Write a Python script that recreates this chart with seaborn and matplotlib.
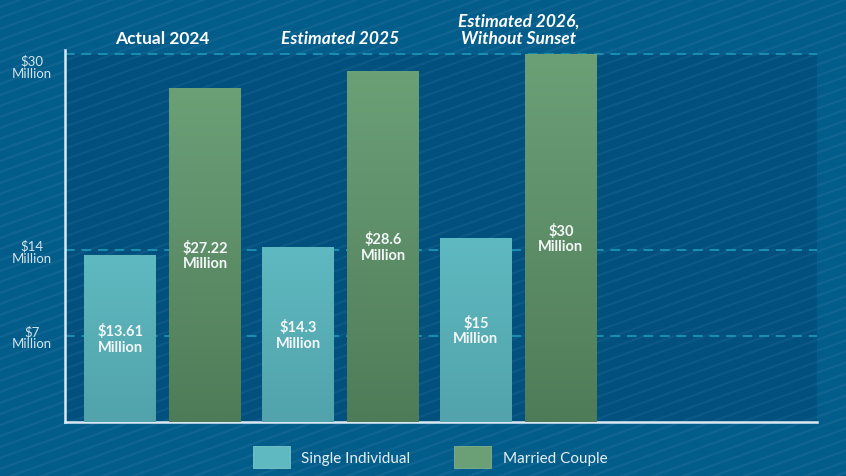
import seaborn as sns
import matplotlib.pyplot as plt
import matplotlib.patches as mpatches
import matplotlib.colors as mcolors
import numpy as np
import pandas as pd

# Chart data
periods = ["Actual 2024", "Estimated 2025", "Estimated 2026,\nWithout Sunset"]
single = [13.61, 14.3, 15.0]
married = [27.22, 28.6, 30.0]
value_labels_single = ["$13.61\nMillion", "$14.3\nMillion", "$15\nMillion"]
value_labels_married = ["$27.22\nMillion", "$28.6\nMillion", "$30\nMillion"]
series_names = ["Single Individual", "Married Couple"]
y_ticks = [7, 14, 30]
y_tick_labels = ["$7\nMillion", "$14\nMillion", "$30\nMillion"]

# Colours
bg_outer = "#035d8b"
bg_inner = "#01507e"
teal_top, teal_bot = "#5fb9c0", "#52a3ab"
green_top, green_bot = "#6ba077", "#4f7c58"
grid_col = "#1a8fb2"
axis_col = "#dbeaf2"

sns.set_style("white")
plt.rcParams["font.family"] = ["Lato", "DejaVu Sans"]

data = pd.DataFrame({"Period": periods, series_names[0]: single, series_names[1]: married})
data_melted = data.melt(id_vars="Period", var_name="Type", value_name="Value")

W, H = 846, 477
fig = plt.figure(figsize=(W / 100, H / 100), dpi=100, facecolor=bg_outer)

ax = fig.add_axes([65 / W, 1 - 423 / H, (817 - 65) / W, (423 - 51) / H], zorder=1)
ax.set_facecolor("none")

# background: darker plot area + diagonal stripes
ax_bg = fig.add_axes([0, 0, 1, 1], zorder=-10)
ax_bg.set_xlim(0, W)
ax_bg.set_ylim(0, H)
ax_bg.axis("off")
pos = ax.get_position()
ax_bg.add_patch(mpatches.Rectangle((pos.x0 * W, pos.y0 * H), pos.width * W, (pos.height * H) - 4,
                                   facecolor=bg_inner, edgecolor="none"))
xs = np.array([0, W])
for c in np.arange(-400, H + 20, 11):
    ax_bg.plot(xs, c + 0.36 * xs, color="white", alpha=0.05, lw=1.6)

sns.barplot(
    data=data_melted, x="Period", y="Value", hue="Type",
    palette=[teal_top, green_top], saturation=1, width=0.956, gap=0.153,
    dodge=True, ax=ax, zorder=3, edgecolor="none", linewidth=0,
)
if ax.get_legend() is not None:
    ax.get_legend().remove()

# vertical gradient on each bar (patches come hue level by hue level)
n = len(periods)
bars = [p for p in ax.patches if isinstance(p, mpatches.Rectangle)][: 2 * n]
for k, bar in enumerate(bars):
    top, bot = (teal_top, teal_bot) if k < n else (green_top, green_bot)
    c1 = np.array(mcolors.to_rgb(top))
    c2 = np.array(mcolors.to_rgb(bot))
    t = np.linspace(0, 1, 64)[:, None]
    img = (c1 * (1 - t) + c2 * t)[:, None, :]
    x0, w, h = bar.get_x(), bar.get_width(), bar.get_height()
    im = ax.imshow(img, extent=(x0, x0 + w, 0, h), aspect="auto", zorder=3.5, interpolation="bilinear")
    im.set_clip_path(bar)
ax.set_xlim(-0.55, 3.68)
ax.set_ylim(0, 30.33)

# value labels inside bars
for i in range(n):
    ax.text(i - 0.239, single[i] / 2, value_labels_single[i], ha="center", va="center",
            color="#f4f7f8", fontsize=10.5, fontweight="bold", zorder=5, linespacing=1.15)
    ax.text(i + 0.239, married[i] / 2, value_labels_married[i], ha="center", va="center",
            color="#f4f7f8", fontsize=10.5, fontweight="bold", zorder=5, linespacing=1.15)

# grid and spines
ax.set_yticks(y_ticks)
ax.set_yticklabels(y_tick_labels, ha="center", multialignment="center", linespacing=1.0)
ax.grid(axis="y", color=grid_col, linestyle=(0, (5, 3.5)), linewidth=1.4)
ax.grid(axis="x", visible=False)
ax.set_axisbelow(True)
for s in ["top", "right"]:
    ax.spines[s].set_visible(False)
for s in ["left", "bottom"]:
    ax.spines[s].set_color(axis_col)
    ax.spines[s].set_linewidth(1.8)

ax.tick_params(axis="y", length=0, pad=24, labelsize=9.5, labelcolor="#d3e4ee")
for lab, v in zip(ax.get_yticklabels(), y_ticks):
    if v == 30:
        lab.set_verticalalignment("top")

# period titles on top
ax.xaxis.tick_top()
ax.tick_params(axis="x", length=0, pad=3, labelsize=12.5, labelcolor="white")
ax.set_xticks(range(n))
ax.set_xticklabels(periods, fontweight="bold", linespacing=1.1)
for i, lab in enumerate(ax.get_xticklabels()):
    if i > 0:
        lab.set_style("italic")
ax.set_xlabel("")
ax.set_ylabel("")

# legend
handles = [mpatches.Patch(facecolor=teal_top, edgecolor="#7cc6cc", lw=0.6),
           mpatches.Patch(facecolor=green_top, edgecolor="#80b08a", lw=0.6)]
fig.legend(handles, series_names, loc="center", bbox_to_anchor=(430 / W, 1 - 458 / H),
           ncol=2, frameon=False, handlelength=2.4, handleheight=1.75,
           columnspacing=2.9, handletextpad=0.75, fontsize=11, labelcolor="#e6eff4")

fig.savefig("out.png", dpi=100, facecolor=bg_outer)
plt.close(fig)
